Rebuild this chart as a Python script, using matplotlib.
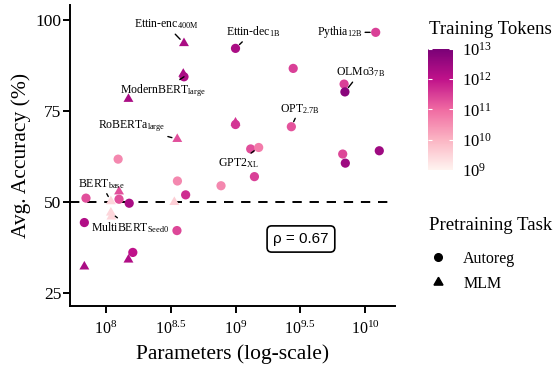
import matplotlib.pyplot as plt
import numpy as np
from matplotlib.colors import LinearSegmentedColormap, LogNorm
from matplotlib.cm import ScalarMappable
from matplotlib.lines import Line2D
from matplotlib.ticker import NullLocator

plt.rcParams['font.family'] = 'Liberation Serif'
plt.rcParams['mathtext.default'] = 'regular'

# model size, avg accuracy, training tokens, objective
params = [4.0e8, 1.0e9, 1.21e10, 2.79e9, 6.9e9, 7.0e9, 4.0e8, 3.95e8, 1.49e8, 3.55e8,
          1.0e9, 1.0e9, 2.7e9, 1.31e9, 1.51e9, 1.24e8, 6.73e9, 7.05e9, 1.29e10, 1.4e9,
          7.73e8, 3.56e8, 4.12e8, 3.37e8, 3.53e8, 1.61e8, 1.49e8, 6.8e7, 6.8e7, 7.0e7,
          1.51e8, 1.26e8, 1.26e8, 1.09e8, 1.09e8, 1.1e8]
accuracy = [93.6, 92.2, 96.6, 86.7, 82.4, 80.25, 84.4, 85.2, 78.3, 67.3,
            71.8, 71.3, 70.7, 64.6, 65.0, 61.8, 63.2, 60.7, 64.1, 57.0,
            54.5, 55.8, 52.0, 50.0, 42.2, 36.2, 34.2, 32.3, 44.4, 51.1,
            49.7, 52.9, 50.8, 50.2, 47.1, 46.0]
tokens = [2e12, 2e12, 3e11, 3e11, 3e11, 6e12, 1.7e12, 2e12, 2e12, 2e11,
          4e11, 4e11, 1.8e11, 2e11, 6e10, 4e10, 2.5e11, 3e12, 3e12, 3e11,
          4e10, 4e10, 5e11, 4e9, 2.5e11, 1e12, 1.6e12, 2e12, 1.6e12, 2e11,
          2e12, 2e11, 2e11, 3e9, 3e9, 3e9]
task = ['MLM', 'Autoreg', 'Autoreg', 'Autoreg', 'Autoreg', 'Autoreg', 'Autoreg', 'MLM', 'MLM', 'MLM',
        'MLM', 'Autoreg', 'Autoreg', 'Autoreg', 'Autoreg', 'Autoreg', 'Autoreg', 'Autoreg', 'Autoreg', 'Autoreg',
        'Autoreg', 'Autoreg', 'Autoreg', 'MLM', 'Autoreg', 'Autoreg', 'MLM', 'MLM', 'Autoreg', 'Autoreg',
        'Autoreg', 'MLM', 'Autoreg', 'MLM', 'MLM', 'MLM']

label_names = ['Ettin-enc$_{400M}$', 'Ettin-dec$_{1B}$', 'Pythia$_{12B}$', 'OLMo3$_{7B}$',
               'ModernBERT$_{large}$', 'RoBERTa$_{large}$', 'OPT$_{2.7B}$', 'GPT2$_{XL}$',
               'BERT$_{base}$', 'MultiBERT$_{Seed0}$']
label_index = [0, 1, 2, 5, 6, 9, 12, 14, 33, 34]
label_offsets = [(-13, 13.5), (12.5, 12), (-26, 0), (11, 14), (-15, -10),
                 (-33, 9), (6, 13), (-15, -11), (-6.7, 12.5), (14, -11)]

xticks = [1e8, 10**8.5, 1e9, 10**9.5, 1e10]
xticklabels = ['$10^{8}$', '$10^{8.5}$', '$10^{9}$', '$10^{9.5}$', '$10^{10}$']
cbar_ticks = [1e9, 1e10, 1e11, 1e12, 1e13]
cbar_labels = ['$10^{9}$', '$10^{10}$', '$10^{11}$', '$10^{12}$', '$10^{13}$']

cmap = LinearSegmentedColormap.from_list(
    'tok', [(0, '#fff4f0'), (0.25, '#fbb4c3'), (0.5, '#f06aa2'), (0.75, '#c0128a'), (1, '#7a0177')])
norm = LogNorm(1e9, 1e13)

params = np.array(params)
accuracy = np.array(accuracy)
tokens = np.array(tokens)
task = np.array(task)

fig = plt.figure(figsize=(5.58, 3.68), dpi=100)
ax = fig.add_axes([0.1246, 0.1685, 0.5833, 0.8179])

ax.axhline(50, color='black', lw=1.4, ls=(0, (4.8, 4.0)), zorder=1)

auto = task == 'Autoreg'
ax.scatter(params[auto], accuracy[auto], c=tokens[auto], cmap=cmap, norm=norm,
           marker='o', s=44, linewidths=0, zorder=3)
ax.scatter(params[~auto], accuracy[~auto], c=tokens[~auto], cmap=cmap, norm=norm,
           marker=(3, 0, 0), s=68, linewidths=0, zorder=3)

for name, i, off in zip(label_names, label_index, label_offsets):
    ax.annotate(name, xy=(params[i], accuracy[i]), xytext=off, textcoords='offset points',
                ha='center', va='center', fontsize=8.5,
                arrowprops=dict(arrowstyle='-', color='black', lw=1, shrinkA=0, shrinkB=4))

ax.text(0.711, 0.2226, 'ρ = 0.67', transform=ax.transAxes, ha='center', va='center',
        fontsize=11, family='Liberation Sans',
        bbox=dict(boxstyle='round,pad=0.4,rounding_size=0.3', fc='white', ec='black', lw=1.2))

ax.set_xscale('log')
ax.set_xlim(10**7.718, 10**10.232)
ax.set_ylim(21.5, 104.1)
ax.set_xticks(xticks)
ax.set_xticklabels(xticklabels)
ax.xaxis.set_minor_locator(NullLocator())
ax.set_yticks([25, 50, 75, 100])
ax.spines['top'].set_visible(False)
ax.spines['right'].set_visible(False)
for s in ['left', 'bottom']:
    ax.spines[s].set_linewidth(1.4)
ax.tick_params(axis='both', length=4.8, width=1.4)
ax.tick_params(axis='x', labelsize=11.5, pad=5.5)
ax.tick_params(axis='y', labelsize=12.5, pad=1)
ax.set_xlabel('Parameters (log-scale)', fontsize=15.5, labelpad=5)
ax.set_ylabel('Avg. Accuracy (%)', fontsize=15.5, labelpad=3)

# colour bar
cax = fig.add_axes([0.767, 0.538, 0.0443, 0.329])
cb = fig.colorbar(ScalarMappable(norm=norm, cmap=cmap), cax=cax)
cb.outline.set_visible(False)
cb.set_ticks(cbar_ticks)
cb.set_ticklabels(cbar_labels)
cax.yaxis.set_minor_locator(NullLocator())
cax.tick_params(direction='in', color='white', length=3, width=0.8, left=True, right=True,
                labelsize=12, pad=7)
fig.text(0.769, 1 - 30 / 368, 'Training Tokens', fontsize=13.5, ha='left', va='center')

# shape legend
fig.text(0.769, 1 - 225 / 368, 'Pretraining Task', fontsize=13.5, ha='left', va='center')
handles = [Line2D([], [], marker='o', ls='', color='black', markersize=5.5),
           Line2D([], [], marker=(3, 0, 0), ls='', color='black', markersize=7.5)]
fig.legend(handles=handles, labels=['Autoreg', 'MLM'],
           loc='upper left', bbox_to_anchor=(0.767, 1 - 251 / 368), frameon=False,
           fontsize=11.5, borderpad=0, borderaxespad=0, handlelength=1.2,
           handletextpad=1.0, labelspacing=0.55)

plt.savefig('out.png', dpi=100)
